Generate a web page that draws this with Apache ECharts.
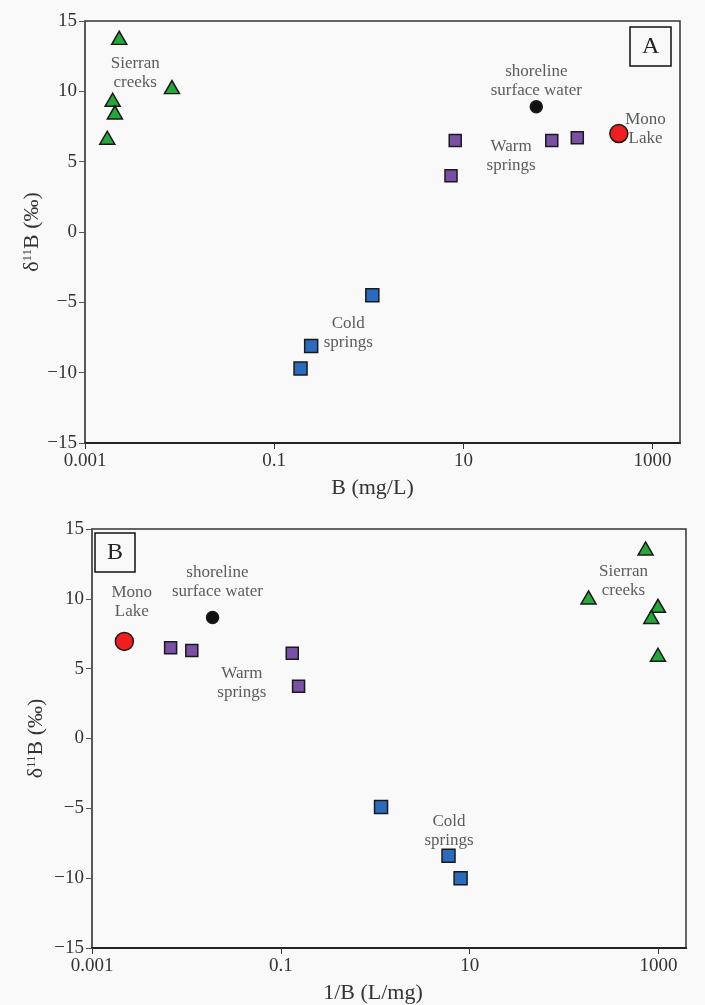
<!DOCTYPE html>
<html>
<head>
<meta charset="utf-8">
<script src="https://cdn.jsdelivr.net/npm/echarts@6/dist/echarts.min.js"></script>
<style>
html,body{margin:0;padding:0;background:#f9f9f9;}
#chart{width:705px;height:1005px;}
</style>
</head>
<body>
<div id="chart"></div>
<script>
// ---------- Panel A : δ11B vs B (mg/L) ----------
const A_sierranB = [0.0023, 0.0083, 0.00196, 0.00207, 0.00172];
const A_sierranD = [13.8, 10.3, 9.4, 8.5, 6.7];
const A_warmB = [8.2, 7.4, 86, 160];
const A_warmD = [6.5, 4.0, 6.5, 6.7];
const A_coldB = [1.09, 0.246, 0.19];
const A_coldD = [-4.5, -8.1, -9.7];
const A_shoreB = [59];
const A_shoreD = [8.9];
const A_monoB = [440];
const A_monoD = [7.0];

// ---------- Panel B : δ11B vs 1/B (L/mg) ----------
const B_sierranX = [728, 181, 984, 837, 984];
const B_sierranD = [13.6, 10.1, 9.5, 8.7, 6.0];
const B_warmX = [0.0068, 0.0114, 0.132, 0.154];
const B_warmD = [6.5, 6.3, 6.1, 3.75];
const B_coldX = [1.15, 5.96, 8.0];
const B_coldD = [-4.9, -8.4, -10.0];
const B_shoreX = [0.0189];
const B_shoreD = [8.67];
const B_monoX = [0.0022];
const B_monoD = [6.95];

// group labels (text, x, y in data units)
const A_labelText = ['Sierran\ncreeks', 'shoreline\nsurface water', 'Mono\nLake', 'Warm\nsprings', 'Cold\nsprings'];
const A_labelX = [0.0034, 59, 843, 32, 0.607];
const A_labelY = [11.3, 10.75, 7.31, 5.39, -7.15];
const B_labelText = ['Mono\nLake', 'shoreline\nsurface water', 'Warm\nsprings', 'Sierran\ncreeks', 'Cold\nsprings'];
const B_labelX = [0.00264, 0.0213, 0.0386, 425, 6.03];
const B_labelY = [9.8, 11.19, 3.99, 11.24, -6.6];

// axis ticks
const xTickValues = [0.001, 0.1, 10, 1000];
const X_MIN = 0.001, X_MAX = 1950;
const Y_MIN = -15, Y_MAX = 15, Y_STEP = 5;

const FONT = '"Liberation Serif", "DejaVu Serif", serif';
const TXT = '#333';

function zip(xs, ys) { return xs.map((x, i) => [x, ys[i]]); }
function zip3(ts, xs, ys) { return ts.map((t, i) => [xs[i], ys[i], t]); }

function xAxis(gi, name, padRight) {
  return {
    type: 'log', logBase: 10, gridIndex: gi, min: X_MIN, max: X_MAX,
    name: name, nameLocation: 'middle', nameGap: 34,
    nameTextStyle: { fontFamily: FONT, fontSize: 22, color: TXT, padding: [0, padRight, 0, 0] },
    axisLine: { show: true, onZero: false, lineStyle: { color: '#222', width: 2 } },
    axisTick: { show: true, length: 6, customValues: xTickValues, lineStyle: { color: '#333', width: 1 } },
    axisLabel: { customValues: xTickValues, fontFamily: FONT, fontSize: 19, color: TXT, margin: 9,
      formatter: v => String(+v.toPrecision(6)) },
    splitLine: { show: false }, minorTick: { show: false }
  };
}
function yAxis(gi, gap) {
  return {
    type: 'value', gridIndex: gi, min: Y_MIN, max: Y_MAX, interval: Y_STEP,
    name: '{a|δ}{b|11}{a|B (‰)}', nameLocation: 'middle', nameGap: gap, nameRotate: 90,
    nameMoveOverlap: false,
    nameTextStyle: { rich: {
      a: { fontFamily: FONT, fontSize: 22, color: TXT },
      b: { fontFamily: FONT, fontSize: 13, color: TXT, verticalAlign: 'top', lineHeight: 14 }
    } },
    axisLine: { show: true, onZero: false, lineStyle: { color: '#555', width: 1.5 } },
    axisTick: { show: true, length: 6, lineStyle: { color: '#555' } },
    axisLabel: { fontFamily: FONT, fontSize: 19, color: TXT, margin: 8,
      formatter: v => String(v).replace('-', '\u2212') },
    splitLine: { show: false }
  };
}

const STROKE = { borderColor: '#1a1a1a', borderWidth: 1.5 };
function pointSeries(gi, data, symbol, size, color) {
  return { type: 'scatter', xAxisIndex: gi, yAxisIndex: gi, data: data, symbol: symbol,
    symbolSize: size, itemStyle: Object.assign({ color: color, opacity: 1 }, STROKE), z: 3 };
}
function labelSeries(gi, data) {
  return { type: 'scatter', xAxisIndex: gi, yAxisIndex: gi, data: data, symbolSize: 0, silent: true,
    label: { show: true, position: 'inside', formatter: p => p.data[2], fontFamily: FONT, fontSize: 17,
      lineHeight: 19, color: TXT, align: 'center', verticalAlign: 'middle' }, z: 4 };
}

const GREEN = '#24a83a', PURPLE = '#7a4fa6', BLUE = '#2a6bbd', RED = '#f01e1e', BLACK = '#111';

const option = {
  backgroundColor: '#f9f9f9',
  animation: false,
  title: [
    { text: 'A', left: 630, top: 27, padding: [8, 12, 7, 12], borderColor: '#111', borderWidth: 1.5,
      textStyle: { fontFamily: FONT, fontSize: 24, fontWeight: 'normal', color: '#222' } },
    { text: 'B', left: 95, top: 533, padding: [8, 12, 7, 12], borderColor: '#111', borderWidth: 1.5,
      textStyle: { fontFamily: FONT, fontSize: 24, fontWeight: 'normal', color: '#222' } }
  ],
  grid: [
    { left: 85, top: 21, width: 595, height: 422, show: true, borderColor: '#333', borderWidth: 1.5, backgroundColor: 'transparent' },
    { left: 92, top: 529, width: 594, height: 422, show: true, borderColor: '#333', borderWidth: 1.5, backgroundColor: 'transparent' }
  ],
  xAxis: [xAxis(0, 'B (mg/L)', 20), xAxis(1, '1/B (L/mg)', 32)],
  yAxis: [yAxis(0, 42), yAxis(1, 45)],
  series: [
    pointSeries(0, zip(A_coldB, A_coldD), 'rect', 13, BLUE),
    pointSeries(0, zip(A_warmB, A_warmD), 'rect', 12, PURPLE),
    pointSeries(0, zip(A_sierranB, A_sierranD), 'triangle', [15, 13], GREEN),
    pointSeries(0, zip(A_shoreB, A_shoreD), 'circle', 12, BLACK),
    pointSeries(0, zip(A_monoB, A_monoD), 'circle', 18, RED),
    labelSeries(0, zip3(A_labelText, A_labelX, A_labelY)),
    pointSeries(1, zip(B_coldX, B_coldD), 'rect', 13, BLUE),
    pointSeries(1, zip(B_warmX, B_warmD), 'rect', 12, PURPLE),
    pointSeries(1, zip(B_sierranX, B_sierranD), 'triangle', [15, 13], GREEN),
    pointSeries(1, zip(B_shoreX, B_shoreD), 'circle', 12, BLACK),
    pointSeries(1, zip(B_monoX, B_monoD), 'circle', 18, RED),
    labelSeries(1, zip3(B_labelText, B_labelX, B_labelY))
  ]
};
const chart = echarts.init(document.getElementById('chart'), null, { renderer: 'canvas' });
chart.setOption(option);
</script>
</body>
</html>
